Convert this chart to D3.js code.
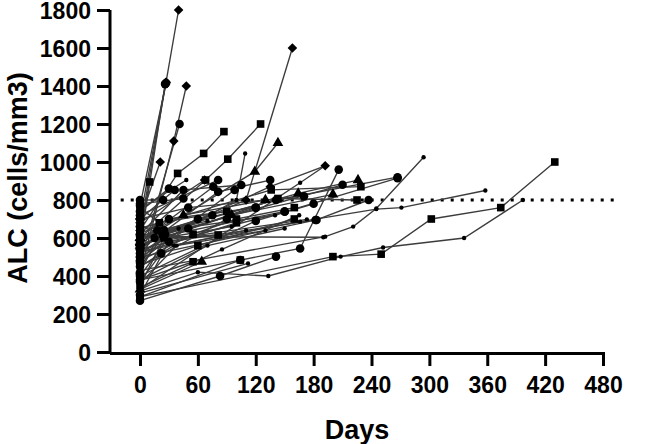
<!DOCTYPE html>
<html>
<head>
<meta charset="utf-8">
<script src="https://cdn.jsdelivr.net/npm/d3@7"></script>
<style>
  html, body { margin: 0; padding: 0; background: #fff; }
  svg { display: block; font-family: "Liberation Sans", Arial, sans-serif; }
</style>
</head>
<body>
<svg id="chart" width="645" height="444"></svg>
<script>
// ---- data ----
const xTicks = [0, 60, 120, 180, 240, 300, 360, 420, 480];
const yTicks = [0, 200, 400, 600, 800, 1000, 1200, 1400, 1600, 1800];
const thresholdALC = 800;
const thresholdDays = [-20, 495];
const xTitle = "Days";
const yTitle = "ALC (cells/mm3)";

// one entry per patient: days of measurement, ALC values, marker symbol
const patientDays = [
  [0, 27, 40], [0, 27], [0, 27], [0, 26], [0, 35, 48], [0, 41],
  [0, 110, 158], [0, 68, 91, 125], [0, 39, 66, 87], [0, 119, 143], [0, 100, 109],
  [0, 166, 192], [0, 104, 166, 206], [0, 192, 221, 245, 294], [0, 166, 245, 271, 358],
  [0, 200, 250, 302, 374, 430], [0, 60, 133, 208, 252, 336, 397], [0, 83, 141],
  [0, 141, 267], [0, 150, 267], [0, 164, 226], [0, 136, 229], [0, 143, 225], [0, 183, 237],
  [0, 81], [0, 67], [0, 48], [0, 36], [0, 45, 105], [0, 76], [0, 81, 135], [0, 98],
  [0, 45], [0, 24], [0, 10], [0, 21], [0, 22], [0, 25, 81], [0, 28, 173], [0, 30, 182],
  [0, 55], [0, 64], [0, 104], [0, 22], [0, 112], [0, 24, 190], [0, 90], [0, 100],
  [0, 70], [0, 120, 180], [0, 95, 200], [0, 24, 150], [0, 38, 130], [0, 26, 210],
  [0, 60, 160], [0, 85, 165], [0, 50, 120], [0, 24, 95], [0, 135, 192],
  [0, 30, 120], [0, 40, 140], [0, 20, 90], [0, 50, 170], [0, 35, 110], [0, 15, 60],
  [0, 45, 130], [0, 25, 75], [0, 70, 150], [0, 55, 100, 160], [0, 30], [0, 18]
];
const patientALC = [
  [640, 1420, 1800], [770, 1415], [700, 1420], [560, 1410], [410, 1110, 1400], [470, 1200],
  [560, 800, 1600], [600, 905, 1015, 1200], [640, 940, 1045, 1160], [580, 949, 1100], [520, 800, 1045],
  [330, 891, 980], [380, 484, 545, 960], [430, 607, 660, 755, 1025], [530, 686, 752, 760, 850],
  [290, 502, 515, 700, 760, 1000], [320, 420, 400, 502, 550, 600, 800], [270, 400, 502],
  [610, 800, 920], [540, 738, 915], [600, 835, 905], [650, 853, 870], [560, 808, 800], [500, 695, 800],
  [720, 905], [680, 905], [750, 905], [700, 853], [620, 853, 879], [580, 870], [540, 843, 905], [480, 853],
  [780, 808], [800, 800], [620, 895], [700, 1000], [420, 633], [350, 600, 616], [400, 590, 698], [300, 580, 695],
  [380, 475], [330, 475], [290, 484], [370, 519], [310, 466], [450, 607, 604], [450, 700], [520, 680],
  [600, 690], [400, 690, 780], [560, 720, 830], [480, 610, 740], [360, 560, 640], [660, 620, 880],
  [460, 560, 700], [340, 540, 720], [500, 650, 760], [520, 600, 660], [560, 870, 980],
  [620, 700, 760], [560, 650, 720], [760, 680, 740], [700, 760, 820], [450, 560, 640], [520, 600, 700],
  [600, 720, 800], [660, 640, 720], [380, 560, 650], [480, 620, 700, 760], [740, 860], [560, 640]
];
const patientMarker = [
  "diamond", "circle", "diamond", "circle", "diamond", "circle",
  "diamond", "square", "square", "triangle", "dot",
  "dot", "circle", "dot", "dot",
  "square", "dot", "circle",
  "circle", "circle", "triangle", "square", "square", "circle",
  "circle", "diamond", "dot", "circle", "circle", "circle", "circle", "circle",
  "circle", "circle", "square", "diamond", "circle", "square", "dot", "circle",
  "square", "triangle", "square", "circle", "dot", "dot", "circle", "square",
  "dot", "circle", "triangle", "circle", "dot", "circle",
  "square", "dot", "circle", "dot", "diamond",
  "circle", "dot", "square", "circle", "dot", "circle",
  "triangle", "circle", "dot", "square", "circle", "circle"
];

// ---- layout ----
const svg = d3.select("#chart");
svg.append("rect").attr("width", 645).attr("height", 444).attr("fill", "#fff");

const x = d3.scaleLinear().domain([-31.1, 480]).range([110, 603]);
const y = d3.scaleLinear().domain([0, 1800]).range([352, 10]);

// threshold dotted line
svg.append("line")
  .attr("x1", x(thresholdDays[0])).attr("x2", x(thresholdDays[1]))
  .attr("y1", y(thresholdALC)).attr("y2", y(thresholdALC))
  .attr("stroke", "#000").attr("stroke-width", 3)
  .attr("stroke-dasharray", "3,7");

// patient lines
const line = d3.line().x(d => x(d[0])).y(d => y(d[1]));
const patients = patientDays.map((days, i) => ({
  marker: patientMarker[i],
  pts: days.map((d, j) => [d, patientALC[i][j]])
}));

svg.append("g").selectAll("path").data(patients).join("path")
  .attr("d", p => line(p.pts))
  .attr("fill", "none")
  .attr("stroke", "#3c3c3c")
  .attr("stroke-width", 1.35);

const symbolFor = {
  circle: { s: d3.symbol(d3.symbolCircle, 58), rot: 0 },
  square: { s: d3.symbol(d3.symbolSquare, 58), rot: 0 },
  diamond: { s: d3.symbol(d3.symbolSquare, 46), rot: 45 },
  triangle: { s: d3.symbol(d3.symbolTriangle, 50), rot: 0 },
  dot: { s: d3.symbol(d3.symbolCircle, 15), rot: 0 }
};

const mg = svg.append("g");
patients.forEach(p => {
  const sym = symbolFor[p.marker];
  mg.selectAll(null).data(p.pts).join("path")
    .attr("d", sym.s())
    .attr("transform", d => `translate(${x(d[0])},${y(d[1])}) rotate(${sym.rot})`)
    .attr("fill", "#000");
});

// axes
const yAxis = svg.append("g").attr("transform", "translate(110,0)")
  .call(d3.axisLeft(y).tickValues(yTicks).tickFormat(d3.format("d"))
    .tickSize(13).tickSizeOuter(0).tickPadding(6));
const xAxis = svg.append("g").attr("transform", "translate(0,352)")
  .call(d3.axisBottom(x).tickValues(xTicks).tickFormat(d3.format("d"))
    .tickSize(14).tickSizeOuter(0).tickPadding(11));

[yAxis, xAxis].forEach(a => {
  a.select(".domain").attr("stroke", "#000").attr("stroke-width", 3);
  a.selectAll(".tick line").attr("stroke", "#000").attr("stroke-width", 3);
  a.selectAll(".tick text").attr("fill", "#000")
    .attr("font-size", 23).attr("font-weight", "bold")
    .attr("font-family", "Liberation Sans, Arial, sans-serif");
});
yAxis.selectAll(".tick text").attr("dy", "0.36em");
xAxis.select(".domain").attr("d", "M110,1.5H603");
yAxis.select(".domain").attr("d", "M0,10V353.5");

// titles
svg.append("text")
  .attr("x", 357).attr("y", 439)
  .attr("text-anchor", "middle")
  .attr("font-size", 27).attr("font-weight", "bold")
  .text(xTitle);

svg.append("text")
  .attr("transform", "translate(27,178) rotate(-90)")
  .attr("text-anchor", "middle")
  .attr("font-size", 27).attr("font-weight", "bold")
  .text(yTitle);
</script>
</body>
</html>
